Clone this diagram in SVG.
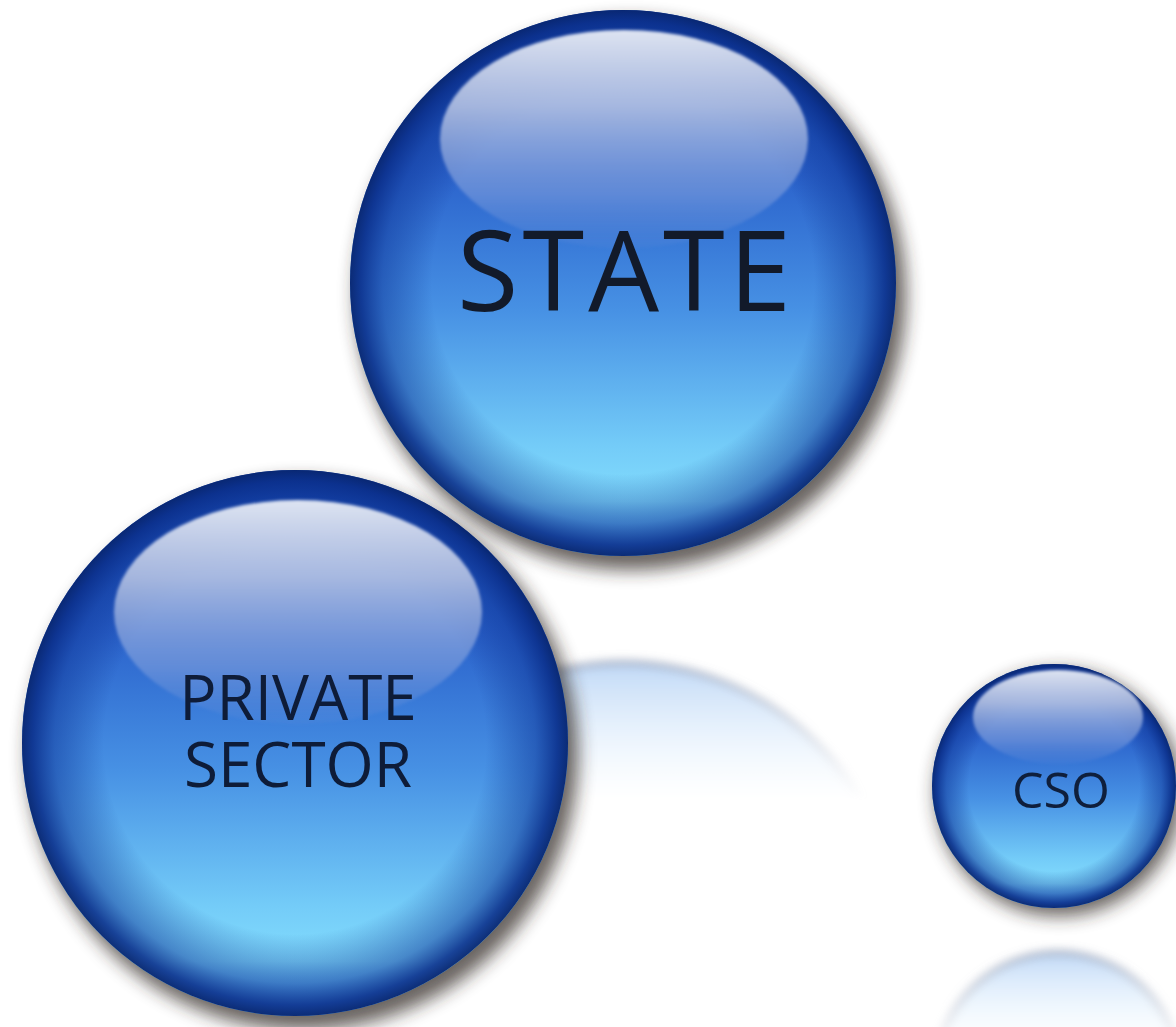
<svg xmlns="http://www.w3.org/2000/svg" width="1176" height="1027" viewBox="0 0 1176 1027">
  <style>
    .label { font-family: "Open Sans", "Noto Sans", "Liberation Sans", sans-serif; text-anchor: middle; }
    .body { fill: url(#bodyGrad); }
    .rim { fill: url(#rimGrad); }
    .gloss { fill: url(#glossGrad); filter: url(#soft); }
    .shadow { fill: #2e2620; opacity: 0.72; filter: url(#shadowBlur); }
    .mirror { fill: url(#mirrorGrad); stroke: #7d86a0; stroke-width: 7; stroke-opacity: 0.55; filter: url(#mirrorBlur); }
  </style>
  <defs>
    <!-- sphere body: deep blue at the top, glowing cyan near the bottom -->
    <linearGradient id="bodyGrad" x1="0" y1="0" x2="0" y2="1">
      <stop offset="0" stop-color="#1543a8"/>
      <stop offset="0.3" stop-color="#2b63cc"/>
      <stop offset="0.55" stop-color="#4791e4"/>
      <stop offset="0.8" stop-color="#74ccf8"/>
      <stop offset="0.9" stop-color="#82dcfd"/>
      <stop offset="1" stop-color="#4d9ae8"/>
    </linearGradient>
    <!-- darkened edge of the sphere -->
    <radialGradient id="rimGrad" cx="0.5" cy="0.5" r="0.5">
      <stop offset="0" stop-color="#0b2f8e" stop-opacity="0"/>
      <stop offset="0.7" stop-color="#0b2f8e" stop-opacity="0"/>
      <stop offset="0.88" stop-color="#0d3597" stop-opacity="0.5"/>
      <stop offset="0.96" stop-color="#0a2e8a" stop-opacity="0.88"/>
      <stop offset="1" stop-color="#082670" stop-opacity="0.95"/>
    </radialGradient>
    <!-- glossy highlight cap -->
    <linearGradient id="glossGrad" x1="0" y1="0" x2="0" y2="1">
      <stop offset="0" stop-color="#e4e9f4" stop-opacity="0.97"/>
      <stop offset="0.35" stop-color="#bcc8e6" stop-opacity="0.85"/>
      <stop offset="0.75" stop-color="#86a3dd" stop-opacity="0.55"/>
      <stop offset="1" stop-color="#5f8ad8" stop-opacity="0.15"/>
    </linearGradient>
    <!-- floor reflection -->
    <linearGradient id="mirrorGrad" x1="0" y1="0" x2="0" y2="1">
      <stop offset="0" stop-color="#bcd6f6"/>
      <stop offset="0.25" stop-color="#e2f1fd"/>
      <stop offset="0.5" stop-color="#ffffff"/>
    </linearGradient>
    <linearGradient id="fadeState" gradientUnits="userSpaceOnUse" x1="0" y1="655" x2="0" y2="800">
      <stop offset="0" stop-color="#fff" stop-opacity="1"/>
      <stop offset="1" stop-color="#fff" stop-opacity="0"/>
    </linearGradient>
    <linearGradient id="fadeCso" gradientUnits="userSpaceOnUse" x1="0" y1="945" x2="0" y2="1040">
      <stop offset="0" stop-color="#fff" stop-opacity="1"/>
      <stop offset="1" stop-color="#fff" stop-opacity="0.2"/>
    </linearGradient>
    <mask id="maskState" maskUnits="userSpaceOnUse" x="0" y="0" width="1176" height="1027">
      <rect x="300" y="600" width="700" height="250" fill="url(#fadeState)"/>
    </mask>
    <mask id="maskCso" maskUnits="userSpaceOnUse" x="0" y="0" width="1176" height="1027">
      <rect x="900" y="920" width="276" height="107" fill="url(#fadeCso)"/>
    </mask>
    <filter id="shadowBlur" x="-20%" y="-20%" width="140%" height="140%">
      <feGaussianBlur stdDeviation="9"/>
    </filter>
    <filter id="mirrorBlur" x="-20%" y="-20%" width="140%" height="140%">
      <feGaussianBlur stdDeviation="4"/>
    </filter>
    <filter id="soft" x="-10%" y="-10%" width="120%" height="120%">
      <feGaussianBlur stdDeviation="1.5"/>
    </filter>
  </defs>

  <rect width="1176" height="1027" fill="#ffffff"/>

  <!-- reflections on the floor -->
  <g id="reflections">
    <circle class="mirror" cx="623" cy="936" r="273" mask="url(#maskState)"/>
    <circle class="mirror" cx="1058" cy="1075" r="122" mask="url(#maskCso)"/>
  </g>

  <g id="private-sector">
    <circle class="shadow" cx="303" cy="755" r="275"/>
    <circle class="body" cx="295" cy="743" r="273"/>
    <circle class="rim" cx="295" cy="743" r="273"/>
    <ellipse class="gloss" cx="298" cy="612" rx="184" ry="112"/>
    <text class="label" x="298" y="720" font-size="62" fill="#0e1c38"><tspan x="298" y="720">PRIVATE</tspan><tspan x="298" y="787">SECTOR</tspan></text>
  </g>

  <g id="state">
    <circle class="shadow" cx="631" cy="295" r="275"/>
    <circle class="body" cx="623" cy="283" r="273"/>
    <circle class="rim" cx="623" cy="283" r="273"/>
    <ellipse class="gloss" cx="624" cy="139" rx="184" ry="109"/>
    <text class="label" x="626" y="311" font-size="112" letter-spacing="4" fill="#121a2a">STATE</text>
  </g>

  <g id="cso">
    <circle class="shadow" cx="1059" cy="793" r="123"/>
    <circle class="body" cx="1054" cy="786" r="122"/>
    <circle class="rim" cx="1054" cy="786" r="122"/>
    <ellipse class="gloss" cx="1058" cy="717" rx="85" ry="47"/>
    <text class="label" x="1061" y="808" font-size="50" fill="#0f1f3c">CSO</text>
  </g>

  <!-- no connectors are drawn between the spheres -->
  <g id="connectors"/>
</svg>
